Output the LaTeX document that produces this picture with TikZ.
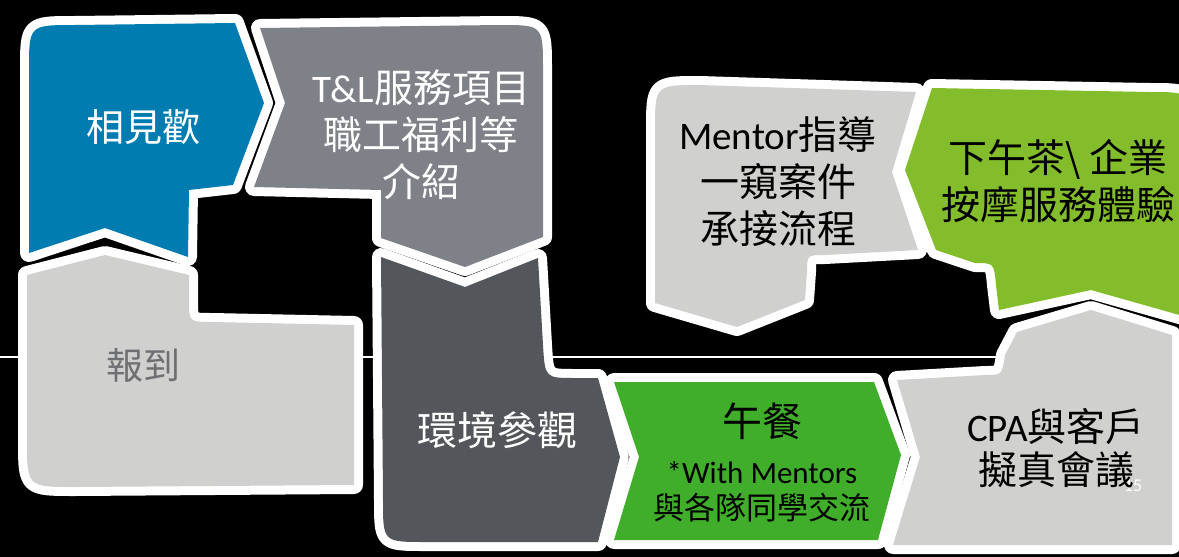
\documentclass[tikz,border=0pt]{standalone}
\usepackage{fontspec}
\setmainfont{Carlito}
\newfontfamily\cjk{Noto Sans CJK TC}

\definecolor{welcomeblue}{RGB}{0,124,176}
\definecolor{introgray}{RGB}{127,129,137}
\definecolor{palegray}{RGB}{208,208,206}
\definecolor{tourgray}{RGB}{83,86,90}
\definecolor{lunchgreen}{RGB}{64,174,42}
\definecolor{teagreen}{RGB}{132,189,43}
\definecolor{signgray}{RGB}{110,111,114}

% outlines of the steps (pixel units, y downwards)
\def\shapeWelcome{(29,253) -- (29,70) .. controls (29,25) .. (75,25) -- (235,23) -- (264,103) -- (233,185) -- (189,190) -- (188,257) -- (105,228) -- cycle}
\def\shapeIntro{(260,28) -- (500,25) .. controls (543,25) .. (543,70) -- (543,237) -- (465,267) -- (381,238) -- (381,190) -- (254,187) -- (285,103) -- cycle}
\def\shapeCheckin{(27,275) -- (105,255) -- (189,275) -- (189,300) .. controls (189,322) .. (212,322) -- (354,325) -- (354,485) -- (75,487) .. controls (27,487) .. (27,440) -- cycle}
\def\shapeTour{(381,257) -- (465,287) -- (538,258) -- (543,345) .. controls (545,378) .. (575,378) -- (598,378) -- (620,457) -- (598,542) -- (425,542) .. controls (383,542) .. (383,500) -- cycle}
\def\shapeLunch{(614,382) -- (874,382) -- (901,455) -- (878,540) -- (614,540) -- (639,457) -- cycle}
\def\shapeMeeting{(1017,332) -- (1091,310) -- (1172,335) -- (1172,545) -- (893,545) -- (920,457) -- (897,380) -- (985,375) .. controls (1002,375) .. (1005,355) -- cycle}
\def\shapeTea{(932,88) -- (1150,92) .. controls (1190,92) .. (1190,130) -- (1190,318) -- (1091,290) -- (999,310) -- (996,285) .. controls (994,263) .. (975,263) -- (936,250) -- (905,170) -- cycle}
\def\shapeMentor{(655,303) -- (655,130) .. controls (655,85) .. (700,85) -- (916,92) -- (892,172) -- (918,250) -- (825,255) .. controls (807,255) .. (807,272) -- (805,300) -- (737,327) -- cycle}

\begin{document}
\begin{tikzpicture}[x=1pt, y=-1pt,
    outline/.style={draw=white, line width=18pt, line join=round},
    steptext/.style={align=center, inner sep=0pt},
  ]
    \useasboundingbox (0,0) rectangle (1179,557);
    \fill[black] (0,0) rectangle (1179,557);
    \clip (0,0) rectangle (1179,557);

    % thin rule behind the steps
    \coordinate (ruleL) at (0,357);
    \coordinate (ruleR) at (1179,357);
    \draw[white, line width=2pt] (ruleL) -- (ruleR);

    % white borders first
    \foreach \s in {\shapeWelcome, \shapeIntro, \shapeCheckin, \shapeTour,
                    \shapeLunch, \shapeMeeting, \shapeTea, \shapeMentor}
        \path[outline] \s;

    % fills
    \fill[welcomeblue] \shapeWelcome;
    \fill[introgray] \shapeIntro;
    \fill[palegray] \shapeCheckin;
    \fill[tourgray] \shapeTour;
    \fill[lunchgreen] \shapeLunch;
    \fill[palegray] \shapeMeeting;
    \fill[teagreen] \shapeTea;
    \fill[palegray] \shapeMentor;

    % LEFT: morning
    \node[steptext, white, font=\cjk\fontsize{38}{46}\selectfont] (welcome) at (143,127) {相見歡};
    \node[steptext, white, font=\fontsize{39}{47}\selectfont] (intro) at (421,135)
        {T\&L{\cjk 服務項目}\\{\cjk 職工福利等}\\{\cjk 介紹}};
    \node[steptext, text=signgray, font=\cjk\fontsize{37}{44}\selectfont] (checkin) at (143,365) {報到};
    \node[steptext, white, font=\cjk\fontsize{40}{48}\selectfont] (tour) at (497,430) {環境參觀};

    % RIGHT: afternoon
    \node[steptext, black, font=\fontsize{31}{36}\selectfont] (lunch) at (762,462)
        {{\fontsize{40}{48}\selectfont\cjk 午餐}\\[11pt]*With Mentors\\{\cjk 與各隊同學交流}};
    \node[steptext, white, font=\fontsize{18}{20}\selectfont] (slideno) at (1133,486) {15};
    \node[steptext, black, font=\fontsize{39}{43}\selectfont] (meeting) at (1056,448)
        {CPA{\cjk 與客戶}\\{\cjk 擬真會議}};
    \node[steptext, black, font=\fontsize{39}{47}\selectfont] (tea) at (1058,181)
        {{\cjk 下午茶\textbackslash\ 企業}\\{\cjk 按摩服務體驗}};
    \node[steptext, black, font=\fontsize{39}{47}\selectfont] (mentor) at (778,182)
        {Mentor{\cjk 指導}\\{\cjk 一窺案件}\\{\cjk 承接流程}};
\end{tikzpicture}
\end{document}
